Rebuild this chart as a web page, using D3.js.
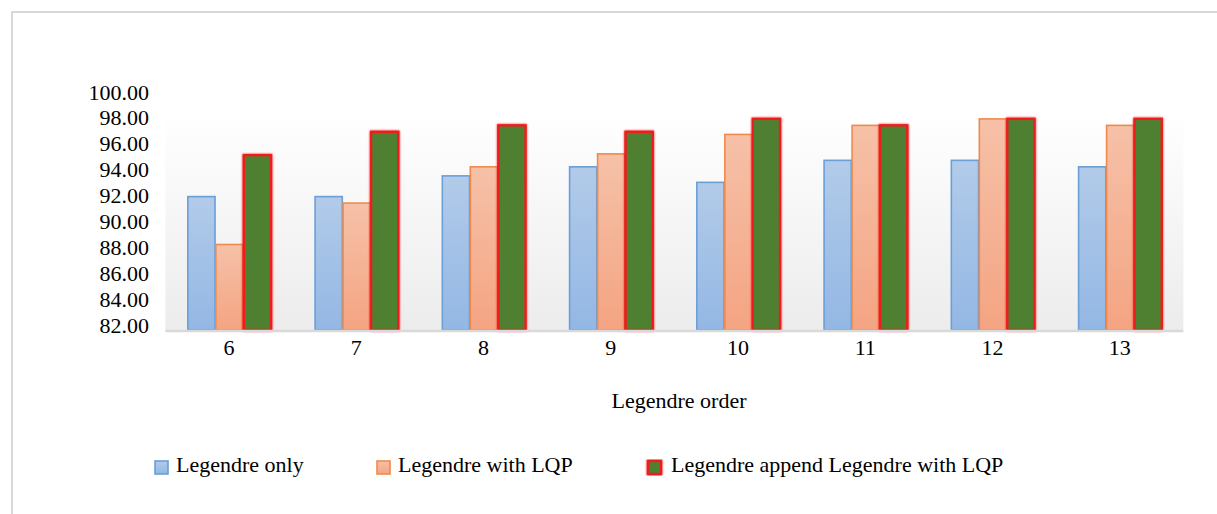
<!DOCTYPE html>
<html>
<head>
<meta charset="utf-8">
<script src="https://cdn.jsdelivr.net/npm/d3@7"></script>
<style>
  html, body { margin: 0; padding: 0; background: #fff; }
  svg { display: block; }
  text { font-family: "Liberation Serif", "Times New Roman", serif; fill: #000; }
</style>
</head>
<body>
<svg id="chart" width="1217" height="514"></svg>
<script>
// Legendre order on the x axis
const categories = ["6", "7", "8", "9", "10", "11", "12", "13"];
const seriesNames = ["Legendre only", "Legendre with LQP", "Legendre append Legendre with LQP"];
// Recognition rates (%)
const legendreOnly   = [92.0, 92.0, 93.6, 94.3, 93.1, 94.8, 94.8, 94.3];
const legendreLQP    = [88.3, 91.5, 94.3, 95.3, 96.8, 97.5, 98.0, 97.5];
const legendreAppend = [95.2, 97.0, 97.5, 97.0, 98.0, 97.5, 98.0, 98.0];
const yTicks = [82, 84, 86, 88, 90, 92, 94, 96, 98, 100];
const xTitle = "Legendre order";

const seriesValues = [legendreOnly, legendreLQP, legendreAppend];

const svg = d3.select("#chart");
const W = 1217, H = 514;
const plot = { left: 165.4, right: 1183.4, top: 113, bottom: 330 };

// outer frame (top and left edges)
svg.append("path")
  .attr("d", `M12,${H} L12,12 L${W},12`)
  .attr("fill", "none").attr("stroke", "#d9d9d9").attr("stroke-width", 2);

const defs = svg.append("defs");
function vGrad(id, top, bottom) {
  const g = defs.append("linearGradient").attr("id", id)
    .attr("x1", 0).attr("y1", 0).attr("x2", 0).attr("y2", 1);
  g.append("stop").attr("offset", "0%").attr("stop-color", top);
  g.append("stop").attr("offset", "100%").attr("stop-color", bottom);
}
vGrad("bg", "#ffffff", "#ececec");
vGrad("gBlue", "#b2cbe9", "#93b7e4");
vGrad("gOrange", "#f6c1a8", "#f4a482");
const glow = defs.append("filter").attr("id", "glow")
  .attr("x", "-30%").attr("y", "-10%").attr("width", "160%").attr("height", "120%");
glow.append("feGaussianBlur").attr("in", "SourceGraphic").attr("stdDeviation", 1.2).attr("result", "b");
const merge = glow.append("feMerge");
merge.append("feMergeNode").attr("in", "b");
merge.append("feMergeNode").attr("in", "SourceGraphic");

const styles = [
  { fill: "url(#gBlue)", stroke: "#6a9fd8", sw: 1.6, filter: null },
  { fill: "url(#gOrange)", stroke: "#ef8a4c", sw: 1.6, filter: null },
  { fill: "#4f8032", stroke: "#ee1c1c", sw: 2.4, filter: "url(#glow)" }
];

// scales
const y = d3.scaleLinear().domain([81.7, 100]).range([plot.bottom, 93]);
const x0 = d3.scaleBand().domain(categories).range([plot.left, plot.right])
  .paddingInner(0.34).paddingOuter(0.17);
const x1 = d3.scaleBand().domain(d3.range(seriesNames.length)).range([0, x0.bandwidth()]);
const xCenter = d3.scaleBand().domain(categories).range([plot.left, plot.right]);

// plot area background
svg.append("rect")
  .attr("x", plot.left).attr("y", plot.top)
  .attr("width", plot.right - plot.left).attr("height", plot.bottom - plot.top)
  .attr("fill", "url(#bg)");

// bars
const groups = svg.append("g").selectAll("g")
  .data(categories).join("g")
  .attr("transform", d => `translate(${x0(d)},0)`);

groups.selectAll("rect")
  .data((c, i) => seriesValues.map((vals, s) => ({ s, v: vals[i] })))
  .join("rect")
  .attr("x", d => x1(d.s) + styles[0].sw / 2)
  .attr("y", d => y(d.v))
  .attr("width", x1.bandwidth() - styles[0].sw / 2)
  .attr("height", d => y.range()[0] - y(d.v))
  .attr("fill", d => styles[d.s].fill)
  .attr("stroke", d => styles[d.s].stroke)
  .attr("stroke-width", d => styles[d.s].sw)
  .attr("filter", d => styles[d.s].filter);

// category axis base line
svg.append("line")
  .attr("x1", plot.left).attr("x2", plot.right)
  .attr("y1", plot.bottom + 1).attr("y2", plot.bottom + 1)
  .attr("stroke", "#d9d9d9").attr("stroke-width", 2.5);

// y axis labels
const yAxis = d3.axisLeft(y).tickValues(yTicks).tickFormat(d3.format(".2f")).tickSize(0).tickPadding(0);
const ya = svg.append("g").attr("transform", "translate(149,-1)").call(yAxis);
ya.select(".domain").remove();
ya.selectAll("text").attr("font-size", 22).attr("font-family", "Liberation Serif").attr("fill", "#000");

// x axis labels
const xAxis = d3.axisBottom(xCenter).tickSize(0).tickPadding(0);
const xa = svg.append("g").attr("transform", `translate(0,${plot.bottom + 9})`).call(xAxis);
xa.select(".domain").remove();
xa.selectAll("text").attr("font-size", 22).attr("font-family", "Liberation Serif").attr("fill", "#000");

// x axis title
svg.append("text")
  .attr("x", 679).attr("y", 408)
  .attr("text-anchor", "middle").attr("font-size", 22)
  .text(xTitle);

// legend
const legendX = [154, 376, 647];
const legend = svg.append("g").selectAll("g")
  .data(seriesNames).join("g")
  .attr("transform", (d, i) => `translate(${legendX[i]},460)`);
legend.append("rect")
  .attr("x", 1).attr("y", 1).attr("width", 13).attr("height", 13)
  .attr("fill", (d, i) => styles[i].fill)
  .attr("stroke", (d, i) => styles[i].stroke)
  .attr("stroke-width", (d, i) => styles[i].sw)
  .attr("filter", (d, i) => styles[i].filter);
legend.append("text")
  .attr("x", (d, i) => i === 2 ? 24 : 22).attr("y", 12)
  .attr("font-size", 22)
  .text(d => d);
</script>
</body>
</html>
